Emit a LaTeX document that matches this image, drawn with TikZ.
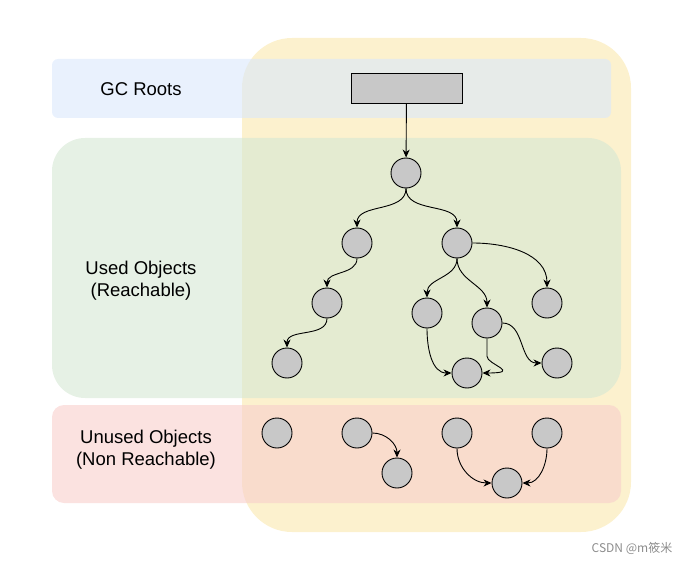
\documentclass[tikz,border=0pt]{standalone}
\usepackage{fontspec}
\setmainfont{Liberation Sans}
\newfontfamily\cjkfont{Noto Sans CJK SC}
\usepackage{color}
\definecolor{myyellow}{RGB}{252,241,206}
\definecolor{myblue}{RGB}{218,232,252}
\definecolor{mygreen}{RGB}{213,232,212}
\definecolor{myred}{RGB}{248,206,204}
\definecolor{mygray}{RGB}{200,200,200}
\definecolor{markgray}{RGB}{140,140,140}
\usepackage{tikz}
\usetikzlibrary{arrows.meta}
\tikzstyle{obj}=[draw,fill=mygray,circle,minimum size=30pt,inner sep=0pt]
\tikzstyle{rootbox}=[draw,fill=mygray,rectangle,minimum width=111pt,minimum height=30pt,inner sep=0pt]
\tikzstyle{band}=[rounded corners=6pt,fill opacity=0.6]
\tikzstyle{ref}=[-{Stealth[length=8pt,width=7pt,inset=2.5pt]}]
\tikzstyle{lanetext}=[align=center,font=\fontsize{18.5}{22}\selectfont]

\begin{document}
\begin{tikzpicture}[x=1pt,y=1pt,line width=0.9pt]
\useasboundingbox (0,0) rectangle (690,-564);
\fill[myyellow,rounded corners=50pt] (242,-38) rectangle (631,-532);
\fill[myblue,band] (52,-59) rectangle (611,-118);
\fill[mygreen,band,rounded corners=33pt] (52,-138) rectangle (621,-398);
\fill[myred,band,rounded corners=12pt] (52,-405) rectangle (621,-503);

\node[lanetext] (gc) at (141,-89) {GC Roots};
\node[lanetext] (used) at (141,-281) {Used Objects\\(Reachable)};
\node[lanetext] (unused) at (146,-450) {Unused Objects\\(Non Reachable)};

\node[rootbox] (r) at (406.5,-88) {};
\node[obj] (o0) at (406,-173) {};
\node[obj] (a1) at (357,-243) {};
\node[obj] (a2) at (457,-243) {};
\node[obj] (b1) at (327,-303) {};
\node[obj] (b2) at (427,-313) {};
\node[obj] (b3) at (487,-323) {};
\node[obj] (b4) at (547,-303) {};
\node[obj] (c1) at (287,-363) {};
\node[obj] (c2) at (467,-373) {};
\node[obj] (c3) at (557,-363) {};

\node[obj] (u1) at (277,-433) {};
\node[obj] (u2) at (357,-433) {};
\node[obj] (u3) at (397,-473) {};
\node[obj] (u4) at (457,-433) {};
\node[obj] (u5) at (547,-433) {};
\node[obj] (u6) at (507,-483) {};

\draw[ref] (r) -- (o0);
\draw[ref] (o0.south) to[out=-90,in=90] (a1.north);
\draw[ref] (o0.south) to[out=-90,in=90] (a2.north);
\draw[ref] (a1.south) to[out=-90,in=90] (b1.north);
\draw[ref] (b1.south) to[out=-90,in=90] (c1.north);
\draw[ref] (a2.south) to[out=-90,in=90] (b2.north);
\draw[ref] (a2.south) to[out=-90,in=90] (b3.north);
\draw[ref] (a2.east) to[out=0,in=90] (b4.north);
\draw[ref] (b2.south) to[out=-90,in=180] (c2.west);
\draw[ref] (b3.south) -- ++(0,-18) .. controls +(0,-8) and +(40,0) .. (c2.east);
\draw[ref] (b3.east) to[out=0,in=180] (c3.west);

\draw[ref] (u2.east) to[out=0,in=90] (u3.north);
\draw[ref] (u4.south) to[out=-90,in=180] (u6.west);
\draw[ref] (u5.south) to[out=-90,in=0] (u6.east);

\node[text=markgray,font=\cjkfont\fontsize{12}{14}\selectfont] (mark) at (632,-548) {CSDN @m筱米};
\end{tikzpicture}
\end{document}
